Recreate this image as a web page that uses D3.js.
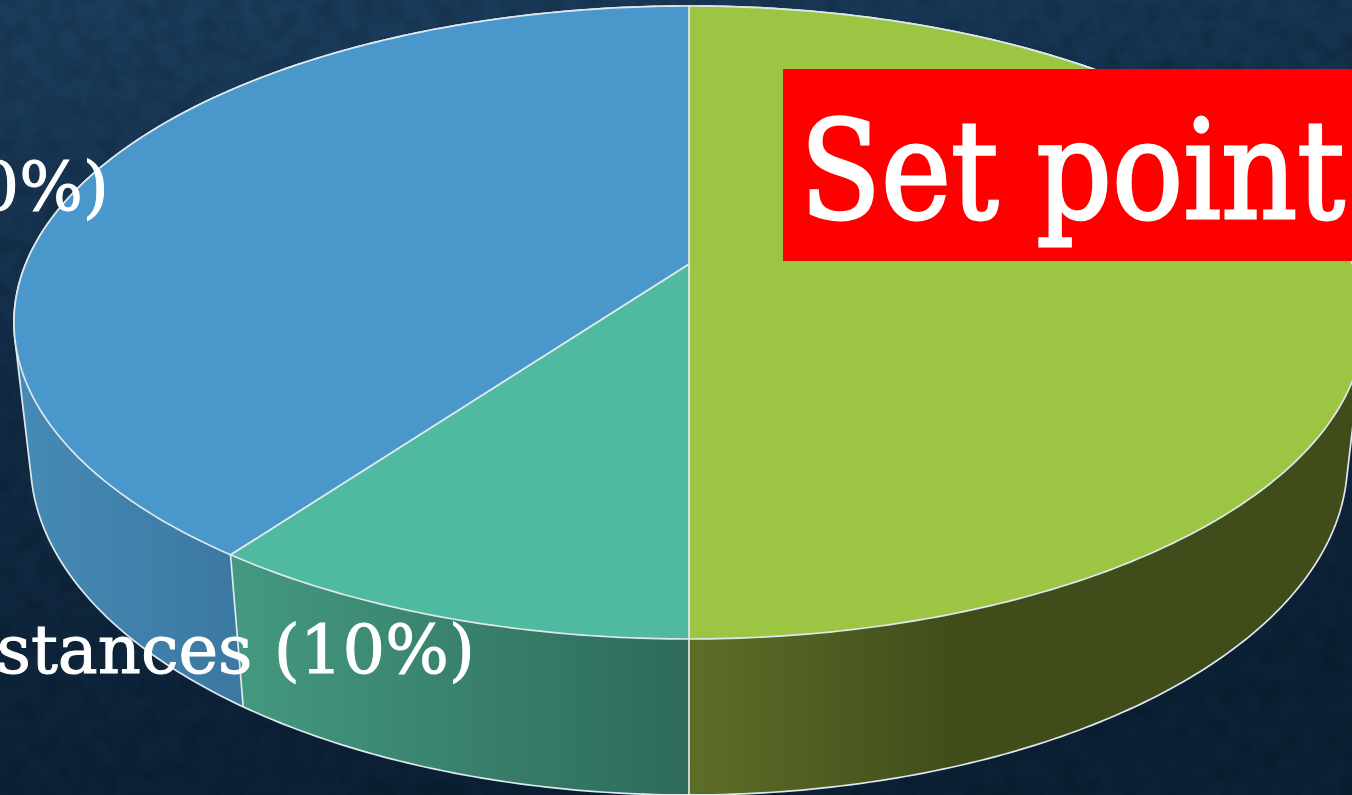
<!DOCTYPE html>
<html>
<head>
<meta charset="utf-8">
<script src="https://cdn.jsdelivr.net/npm/d3@7"></script>
<style>
html, body { margin: 0; padding: 0; background: #0f2a44; overflow: hidden; }
text { font-family: "DejaVu Serif", serif; fill: #fff; stroke: #fff; }
</style>
</head>
<body>
<script>
// slices go clockwise from the top of the pie
var categories = ["Set point", "stances", "Other"];
var shares = [50, 10, 40];
var topColors = ["#9dc544", "#4fbaa0", "#4a98cb"];
var wallStops = [
    [["#5e6e28", 0], ["#404d1b", 0.4], ["#404d1b", 1]],
    [["#449880", 0], ["#2d6a5a", 1]],
    [["#4589b4", 0], ["#3b78a1", 1]]
];
var labelTexts = ["(40%)", "stances (10%)"];

var w = 1352;
var h = 795;

var svg = d3.select("body").append("svg")
    .attr("width", w)
    .attr("height", h)
    .style("display", "block");

var defs = svg.append("defs");

//Background
var bg = defs.append("linearGradient").attr("id", "bg")
    .attr("x1", 0).attr("y1", 0).attr("x2", 0.25).attr("y2", 1);
bg.append("stop").attr("offset", 0).attr("stop-color", "#1c3e5e");
bg.append("stop").attr("offset", 0.45).attr("stop-color", "#122c46");
bg.append("stop").attr("offset", 1).attr("stop-color", "#0c2136");

var noise = defs.append("filter").attr("id", "noise")
    .attr("x", 0).attr("y", 0).attr("width", "100%").attr("height", "100%");
noise.append("feTurbulence")
    .attr("type", "fractalNoise")
    .attr("baseFrequency", 0.05)
    .attr("numOctaves", 4)
    .attr("seed", 7);
noise.append("feColorMatrix")
    .attr("type", "matrix")
    .attr("values", "0 0 0 0 0  0 0 0 0 0  0 0 0 0 0  0.9 0 0 0 -0.32");

svg.append("rect").attr("width", w).attr("height", h).attr("fill", "url(#bg)");
svg.append("rect").attr("width", w).attr("height", h).attr("filter", "url(#noise)").attr("opacity", 0.35);

//Perspective projection of the pie disc, depth 0 is the top face, 1 the bottom
var cx = 689;
var cy = 264;
function project(angle, r, depth) {
    var u = Math.sin(angle) * r;
    var v = -Math.cos(angle) * r;
    var q = 1 + 0.0242 * depth - 0.1848 * v;
    return [cx + 663.4 * u / q, cy + (305.7 * v + 140 * depth) / q];
}

var arcs = d3.pie().sort(null).value(function (d) { return d; })(shares);

function rim(a, depth) {
    var n = Math.ceil((a.endAngle - a.startAngle) * 80);
    return d3.range(n + 1).map(function (i) {
        return project(a.startAngle + (a.endAngle - a.startAngle) * i / n, 1, depth);
    });
}

var segment = d3.line();
var ring = d3.line().curve(d3.curveLinearClosed);
var edge = "#dfe8ec";
var edgeWidth = 1.7;

//Walls: blue and green first, teal over them
var walls = [2, 0, 1].map(function (i) {
    return { i: i, hull: d3.polygonHull(rim(arcs[i], 0).concat(rim(arcs[i], 1))) };
});

walls.forEach(function (d) {
    var ext = d3.extent(rim(arcs[d.i], 1).filter(function (p) {
        // visible part of the wall only
        return p[1] > cy + 50;
    }), function (p) { return p[0]; });
    var g = defs.append("linearGradient")
        .attr("id", "wall" + d.i)
        .attr("gradientUnits", "userSpaceOnUse")
        .attr("x1", d.i == 0 ? 689 : ext[0])
        .attr("x2", d.i == 0 ? 1352 : ext[1])
        .attr("y1", 0).attr("y2", 0);
    wallStops[d.i].forEach(function (s) {
        g.append("stop").attr("offset", s[1]).attr("stop-color", s[0]);
    });
});

svg.selectAll("path.wall")
    .data(walls)
    .enter().append("path")
    .attr("class", "wall")
    .attr("d", function (d) { return ring(d.hull); })
    .attr("fill", function (d) { return "url(#wall" + d.i + ")"; });

//Outline of the whole body
var whole = { startAngle: 0, endAngle: 2 * Math.PI };
svg.append("path")
    .attr("d", ring(d3.polygonHull(rim(whole, 0).concat(rim(whole, 1)))))
    .attr("fill", "none")
    .attr("stroke", edge)
    .attr("stroke-width", edgeWidth);

//Vertical edges at the visible slice borders
svg.selectAll("path.divider")
    .data([arcs[0].endAngle, arcs[1].endAngle])
    .enter().append("path")
    .attr("class", "divider")
    .attr("d", function (a) { return segment([project(a, 1, 0), project(a, 1, 1)]); })
    .attr("stroke", edge)
    .attr("stroke-width", edgeWidth);

//Top face
svg.selectAll("path.slice")
    .data(arcs)
    .enter().append("path")
    .attr("class", "slice")
    .attr("d", function (a) { return ring([project(0, 0, 0)].concat(rim(a, 0))); })
    .attr("fill", function (a, i) { return topColors[i]; })
    .attr("stroke", edge)
    .attr("stroke-width", edgeWidth)
    .attr("stroke-linejoin", "round");

//Labels
svg.append("text")
    .attr("x", 109).attr("y", 210)
    .attr("text-anchor", "end")
    .attr("font-size", 67)
    .attr("stroke-width", 1)
    .text(labelTexts[0]);

svg.append("text")
    .attr("x", 475).attr("y", 673)
    .attr("text-anchor", "end")
    .attr("font-size", 67)
    .attr("stroke-width", 1)
    .text(labelTexts[1]);

//Red box
svg.append("rect")
    .attr("x", 783).attr("y", 69)
    .attr("width", w - 783).attr("height", 192)
    .attr("fill", "#ff0000");

svg.append("text")
    .attr("transform", "translate(800,218) scale(0.87,1)")
    .attr("font-size", 136)
    .attr("stroke-width", 3)
    .text(categories[0]);
</script>
</body>
</html>
